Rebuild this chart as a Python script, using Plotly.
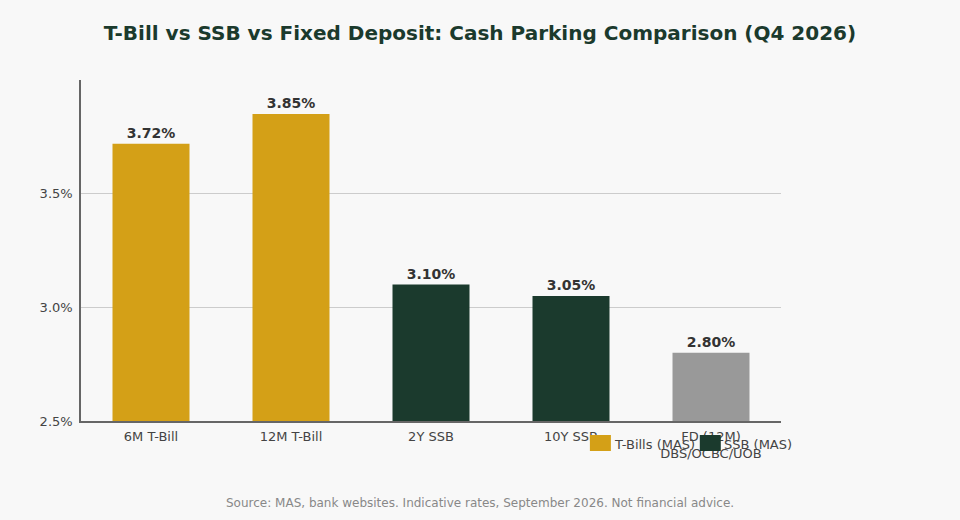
import plotly.graph_objects as go

# rates (%)
tbill_names = ['6M T-Bill', '12M T-Bill']
tbill_rates = [3.72, 3.85]
ssb_names = ['2Y SSB', '10Y SSB']
ssb_rates = [3.10, 3.05]
fd_names = ['FD (12M)<br>DBS/OCBC/UOB']
fd_rates = [2.80]
y_ticks = [2.5, 3.0, 3.5]

gold = '#D4A017'
green = '#1B3A2D'
grey = '#999999'

fig = go.Figure()


def add_bars(names, rates, color, label):
    fig.add_trace(go.Bar(
        x=names, y=rates, name=label, showlegend=False,
        marker=dict(color=color, line=dict(width=0)),
        width=0.55,
        text=[f'{r:.2f}%' for r in rates],
        textposition='outside',
        textfont=dict(family='DejaVu Sans', size=14, color='#333333'),
        texttemplate='<b>%{text}</b>',
        cliponaxis=False,
    ))


add_bars(tbill_names, tbill_rates, gold, 'T-Bills (MAS)')
add_bars(ssb_names, ssb_rates, green, 'SSB (MAS)')
add_bars(fd_names, fd_rates, grey, 'Fixed Deposit')

# hand-drawn legend (bottom right, as in the original)
legend_items = [('T-Bills (MAS)', gold, 0.727), ('SSB (MAS)', green, 0.884)]
for label, color, x0 in legend_items:
    fig.add_shape(type='rect', xref='paper', yref='paper',
                  x0=x0, x1=x0 + 0.030, y0=-0.088, y1=-0.041,
                  fillcolor=color, line=dict(width=0))
    fig.add_annotation(text=label, xref='paper', yref='paper',
                       x=x0 + 0.032, y=-0.069, xanchor='left', yanchor='middle',
                       showarrow=False, font=dict(size=13, color='#444444'))

fig.add_annotation(
    text='Source: MAS, bank websites. Indicative rates, September 2026. Not financial advice.',
    xref='paper', yref='paper', x=0.57, y=-0.240, xanchor='center', yanchor='middle',
    showarrow=False, font=dict(family='DejaVu Sans', size=12, color='#888888'),
)

fig.update_layout(
    width=960, height=520,
    title=dict(text='<b>T-Bill vs SSB vs Fixed Deposit: Cash Parking Comparison (Q4 2026)</b>',
               x=0.5, xanchor='center', y=0.9365, yanchor='middle',
               font=dict(family='DejaVu Sans', size=20, color='#1B3A2D')),
    font=dict(family='DejaVu Sans', size=13, color='#444444'),
    paper_bgcolor='#F8F8F8', plot_bgcolor='#F8F8F8',
    margin=dict(l=81, r=179, t=80, b=99),
    barmode='overlay',
    showlegend=False,
    xaxis=dict(showline=True, linecolor='#666666', linewidth=1.5, ticks='',
               ticklabelstandoff=3,
               tickfont=dict(size=13, color='#444444'), showgrid=False),
    yaxis=dict(range=[2.5, 4.0], tickmode='array', tickvals=y_ticks,
               ticktext=[f'{t:.1f}%' for t in y_ticks], ticklabelstandoff=4,
               showline=True, linecolor='#666666', linewidth=1.5,
               gridcolor='#CCCCCC', gridwidth=1, zeroline=False,
               tickfont=dict(size=13, color='#444444')),
)

fig.write_html('out.html', config={'displayModeBar': False},
               post_script="document.body.style.margin='0';")
